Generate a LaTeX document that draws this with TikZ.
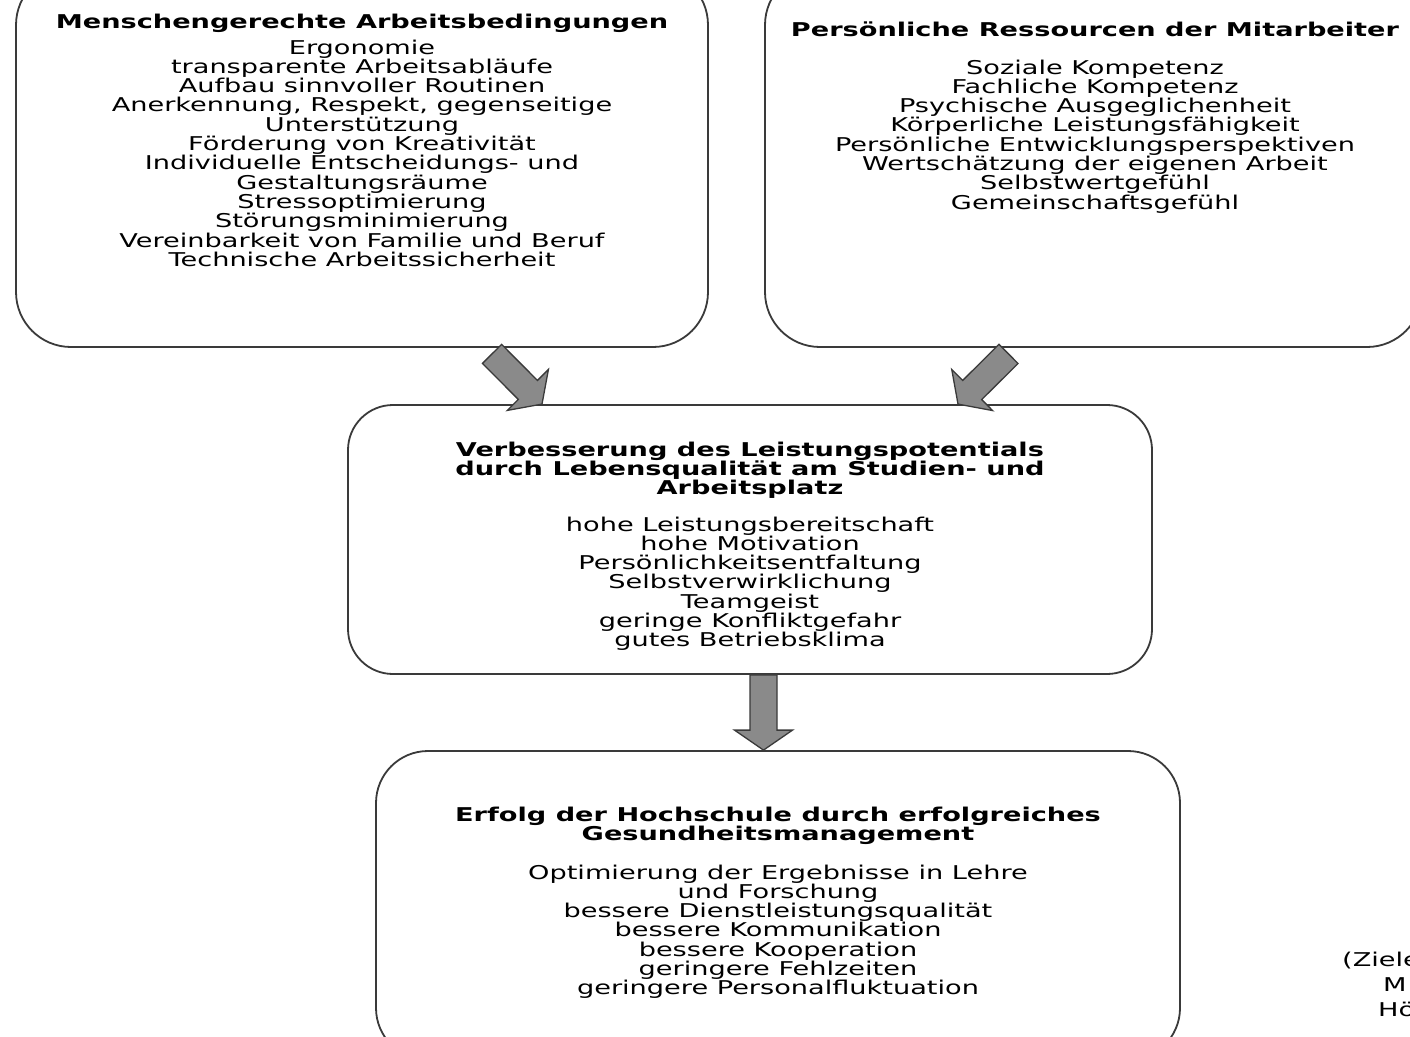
\documentclass[tikz,border=0pt]{standalone}
\usepackage{fontspec}
\setmainfont{DejaVu Sans}[FakeStretch=1.43]
\usetikzlibrary{calc}

\definecolor{boxline}{RGB}{58,58,58}
\definecolor{arrowfill}{RGB}{138,138,138}

\tikzset{
  panel/.style={draw=boxline, line width=1.8pt, inner sep=0pt},
  heading/.style={font=\fontsize{19}{19.3}\selectfont\bfseries, align=center, anchor=base, inner sep=0pt},
  items/.style={font=\fontsize{19}{19.3}\selectfont, align=center, anchor=base, inner sep=0pt},
  fat/.style={fill=arrowfill, draw=boxline, line width=1.3pt, line join=miter}
}

% block arrow from tail point #1 to tip point #2
\newcommand\blockarrow[2]{%
  \path ($(#2)!20pt!(#1)$) coordinate (ba-c);
  \draw[fat] ($(#1)!13.5pt!90:(#2)$) -- ($(ba-c)!13.5pt!90:(#2)$)
    -- ($(ba-c)!29pt!90:(#2)$) -- (#2) -- ($(ba-c)!29pt!-90:(#2)$)
    -- ($(ba-c)!13.5pt!-90:(#2)$) -- ($(#1)!13.5pt!-90:(#2)$) -- cycle;}

\begin{document}
\begin{tikzpicture}[x=1pt,y=-1pt]
\useasboundingbox (0,0) rectangle (1410,1036);
\fill[white] (0,0) rectangle (1410,1036);

% boxes
\node[panel, rounded corners=55pt, minimum width=692pt, minimum height=377pt] (tl) at (362,158.5) {};
\node[panel, rounded corners=55pt, minimum width=657pt, minimum height=377pt] (tr) at (1093.5,158.5) {};
\node[panel, rounded corners=45pt, minimum width=804pt, minimum height=269pt] (mid) at (750,539.5) {};
\node[panel, rounded corners=52pt, minimum width=804pt, minimum height=309pt] (bot) at (778,905.5) {};

% texts (anchored at the baseline of the last line)
\node[heading] (tl-head) at (362,28) {Menschengerechte Arbeitsbedingungen};
\node[items] (tl-body) at (362,266.3) {Ergonomie\\transparente Arbeitsabläufe\\Aufbau sinnvoller Routinen\\Anerkennung, Respekt, gegenseitige\\Unterstützung\\Förderung von Kreativität\\Individuelle Entscheidungs- und\\Gestaltungsräume\\Stressoptimierung\\Störungsminimierung\\Vereinbarkeit von Familie und Beruf\\Technische Arbeitssicherheit};

\node[heading] (tr-head) at (1095,36) {Persönliche Ressourcen der Mitarbeiter};
\node[items] (tr-body) at (1095,209.1) {Soziale Kompetenz\\Fachliche Kompetenz\\Psychische Ausgeglichenheit\\Körperliche Leistungsfähigkeit\\Persönliche Entwicklungsperspektiven\\Wertschätzung der eigenen Arbeit\\Selbstwertgefühl\\Gemeinschaftsgefühl};

\node[heading] (mid-head) at (750,494.6) {Verbesserung des Leistungspotentials\\durch Lebensqualität am Studien- und\\Arbeitsplatz};
\node[items] (mid-body) at (750,646.8) {hohe Leistungsbereitschaft\\hohe Motivation\\Persönlichkeitsentfaltung\\Selbstverwirklichung\\Teamgeist\\geringe Konfliktgefahr\\gutes Betriebsklima};

\node[heading] (bot-head) at (778,840.3) {Erfolg der Hochschule durch erfolgreiches\\Gesundheitsmanagement};
\node[items] (bot-body) at (778,994.8) {Optimierung der Ergebnisse in Lehre\\und Forschung\\bessere Dienstleistungsqualität\\bessere Kommunikation\\bessere Kooperation\\geringere Fehlzeiten\\geringere Personalfluktuation};

% side note
\node[items, anchor=base west] (note1) at (1342,966) {(Ziele};
\node[items, anchor=base west] (note2) at (1383,991) {M};
\node[items, anchor=base west] (note3) at (1378,1016) {Hö};

% arrows
\coordinate (a1t) at ($(tl.south)+(130,6)$);
\coordinate (a1h) at ($(mid.north)+(-208,0)$);
\coordinate (a2t) at ($(tr.south)+(-85,6)$);
\coordinate (a2h) at ($(mid.north)+(208,0)$);
\coordinate (a3t) at ($(mid.south)+(13.5,0)$);
\coordinate (a3h) at ($(bot.north)+(-14.5,0)$);
\blockarrow{a1t}{a1h}
\blockarrow{a2t}{a2h}
\blockarrow{a3t}{a3h}
\end{tikzpicture}
\end{document}
